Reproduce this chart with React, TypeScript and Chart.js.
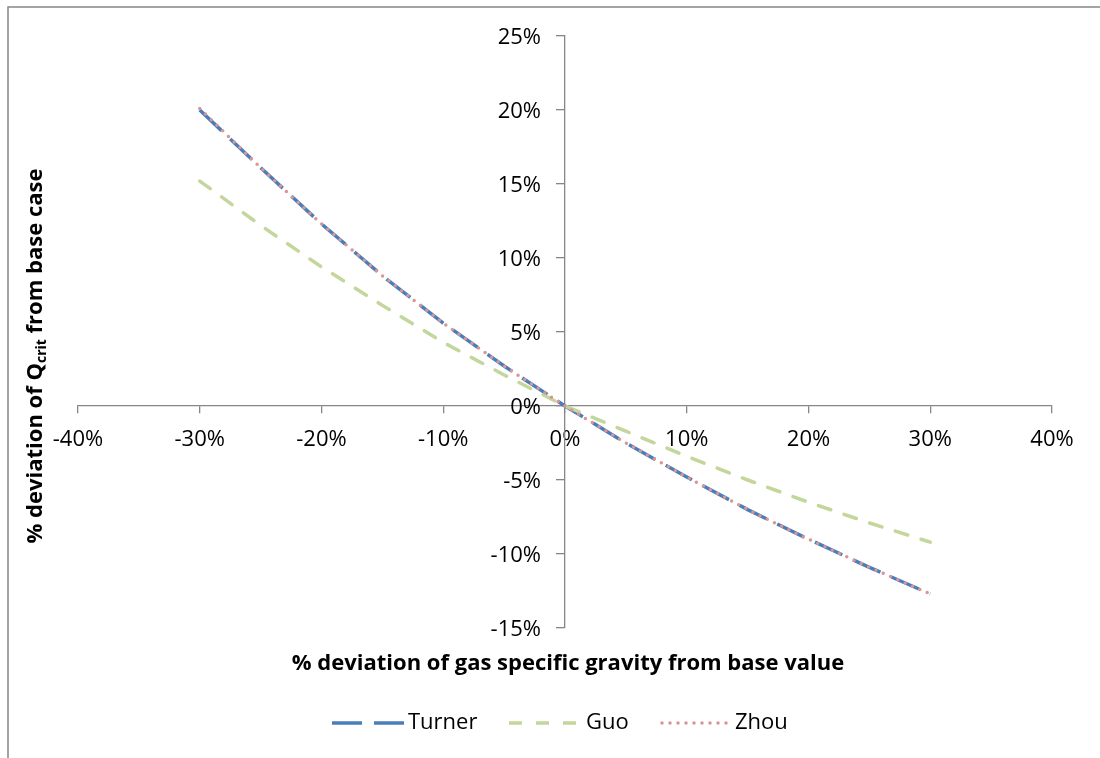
import React, { useEffect, useRef } from 'react';
import { Chart, registerables } from 'chart.js';

Chart.register(...registerables);

// ---- data ----
const xValues = [-30, -25, -20, -15, -10, -5, 0, 5, 10, 15, 20, 25, 30];
const turnerValues = [20.0, 16.1, 12.3, 8.8, 5.6, 2.7, 0, -2.5, -4.8, -7.0, -9.0, -10.9, -12.7];
const guoValues = [15.2, 12.2, 9.4, 6.8, 4.3, 2.1, 0, -1.7, -3.4, -5.0, -6.5, -7.9, -9.2];
const zhouValues = [20.1, 16.1, 12.3, 8.8, 5.6, 2.7, 0, -2.5, -4.8, -7.0, -9.0, -10.9, -12.7];
const xTickValues = [-40, -30, -20, -10, 0, 10, 20, 30, 40];
const yTickValues = [-15, -10, -5, 0, 5, 10, 15, 20, 25];
const seriesNames = ['Turner', 'Guo', 'Zhou'];
const xTitle = '% deviation of gas specific gravity from base value';
const yTitleParts = ['% deviation of Q', 'crit', ' from base case'];

const FONT = "'Open Sans', 'Noto Sans', sans-serif";
const AXIS_COLOR = '#868686';
const COLORS = { turner: '#4A7EBB', guo: '#C3D69B', zhou: '#D99694' };
const DASHES = { turner: [30, 12], guo: [13, 14], zhou: [0, 8] };

const toPoints = (ys: number[]) => xValues.map((x, i) => ({ x, y: ys[i] }));
const pct = (v: number) => `${v}%`;

const decorPlugin = {
  id: 'decor',
  beforeDraw(chart: any) {
    const ctx = chart.ctx;
    ctx.save();
    ctx.fillStyle = '#ffffff';
    ctx.fillRect(0, 0, chart.width, chart.height);
    ctx.strokeStyle = '#878787';
    ctx.lineWidth = 1.5;
    ctx.beginPath();
    ctx.moveTo(8, chart.height);
    ctx.lineTo(8, 7);
    ctx.lineTo(chart.width, 7);
    ctx.stroke();
    ctx.restore();
  },
  afterDraw(chart: any) {
    const ctx = chart.ctx;
    ctx.save();
    ctx.fillStyle = '#000';

    // y tick labels, placed with the library's scales
    const xs = chart.scales.x;
    const ys = chart.scales.y;
    const axisX = xs.getPixelForValue(0);
    ctx.font = `22px ${FONT}`;
    ctx.textAlign = 'right';
    ctx.textBaseline = 'middle';
    yTickValues.forEach((v) => {
      ctx.fillText(pct(v), axisX - 24, ys.getPixelForValue(v) + 2);
    });

    // x title
    ctx.font = `bold 22px ${FONT}`;
    ctx.textAlign = 'center';
    ctx.textBaseline = 'middle';
    ctx.fillText(xTitle, 568, 664);

    // y title with subscript
    ctx.translate(35, 356);
    ctx.rotate(-Math.PI / 2);
    const bigFont = `bold 22px ${FONT}`;
    const smallFont = `bold 14px ${FONT}`;
    ctx.font = bigFont;
    const w0 = ctx.measureText(yTitleParts[0]).width;
    const w2 = ctx.measureText(yTitleParts[2]).width;
    ctx.font = smallFont;
    const w1 = ctx.measureText(yTitleParts[1]).width;
    let px = -(w0 + w1 + w2) / 2;
    ctx.textAlign = 'left';
    ctx.textBaseline = 'alphabetic';
    ctx.font = bigFont;
    ctx.fillText(yTitleParts[0], px, 7);
    px += w0;
    ctx.font = smallFont;
    ctx.fillText(yTitleParts[1], px, 11);
    px += w1;
    ctx.font = bigFont;
    ctx.fillText(yTitleParts[2], px, 7);
    ctx.setTransform(1, 0, 0, 1, 0, 0);

    // legend
    const items = [
      { name: seriesNames[0], color: COLORS.turner, dash: DASHES.turner, x0: 332, x1: 404, tx: 408, cap: 'butt', w: 3.5 },
      { name: seriesNames[1], color: COLORS.guo, dash: DASHES.guo, x0: 509, x1: 578, tx: 586, cap: 'butt', w: 3.5 },
      { name: seriesNames[2], color: COLORS.zhou, dash: DASHES.zhou, x0: 662, x1: 728, tx: 735, cap: 'round', w: 3.5 },
    ];
    const ly = 723;
    items.forEach((it) => {
      ctx.save();
      ctx.strokeStyle = it.color;
      ctx.lineWidth = it.w;
      ctx.lineCap = it.cap;
      ctx.setLineDash(it.dash);
      ctx.beginPath();
      ctx.moveTo(it.x0, ly);
      ctx.lineTo(it.x1, ly);
      ctx.stroke();
      ctx.restore();
      ctx.font = `22px ${FONT}`;
      ctx.fillStyle = '#000';
      ctx.textAlign = 'left';
      ctx.textBaseline = 'middle';
      ctx.fillText(it.name, it.tx, ly);
    });
    ctx.restore();
  },
};

export default function App() {
  const ref = useRef<HTMLCanvasElement | null>(null);
  useEffect(() => {
    if (!ref.current) return;
    const chart = new Chart(ref.current, {
      type: 'line',
      data: {
        datasets: [
          {
            label: seriesNames[0],
            data: toPoints(turnerValues),
            borderColor: COLORS.turner,
            borderWidth: 3.5,
            borderDash: DASHES.turner,
            pointRadius: 0,
            fill: false,
            order: 2,
          },
          {
            label: seriesNames[1],
            data: toPoints(guoValues),
            borderColor: COLORS.guo,
            borderWidth: 3.5,
            borderDash: DASHES.guo,
            borderCapStyle: 'round',
            pointRadius: 0,
            fill: false,
            order: 1,
          },
          {
            label: seriesNames[2],
            data: toPoints(zhouValues),
            borderColor: COLORS.zhou,
            borderWidth: 3.5,
            borderDash: DASHES.zhou,
            borderCapStyle: 'round',
            pointRadius: 0,
            fill: false,
            order: 0,
          },
        ],
      },
      options: {
        responsive: false,
        animation: false,
        devicePixelRatio: 1,
        layout: { padding: { left: 78, right: 48, top: 36, bottom: 130 } },
        plugins: { legend: { display: false }, tooltip: { enabled: false } },
        scales: {
          x: {
            type: 'linear',
            min: -40,
            max: 40,
            position: { y: 0 },
            afterBuildTicks: (scale: any) => {
              scale.ticks = xTickValues.map((v) => ({ value: v }));
            },
            ticks: {
              callback: (v: any) => pct(v),
              color: '#000',
              font: { family: FONT, size: 22 },
              padding: 14,
              maxRotation: 0,
              autoSkip: false,
            },
            grid: { drawOnChartArea: false, drawTicks: true, tickLength: 7, color: AXIS_COLOR, lineWidth: 1.3 },
            border: { color: AXIS_COLOR, width: 1.3 },
          },
          y: {
            type: 'linear',
            min: -15,
            max: 25,
            position: { x: 0 },
            afterBuildTicks: (scale: any) => {
              scale.ticks = yTickValues.map((v) => ({ value: v }));
            },
            ticks: {
              display: false,
            },
            grid: { drawOnChartArea: false, drawTicks: true, tickLength: 8, color: AXIS_COLOR, lineWidth: 1.3 },
            border: { color: AXIS_COLOR, width: 1.3 },
          },
        },
      },
      plugins: [decorPlugin],
    } as any);
    return () => chart.destroy();
  }, []);
  return (
    <div style={{ position: 'fixed', left: 0, top: 0, width: 1100, height: 758 }}>
      <canvas ref={ref} width={1100} height={758} style={{ display: 'block', width: 1100, height: 758 }} />
    </div>
  );
}
